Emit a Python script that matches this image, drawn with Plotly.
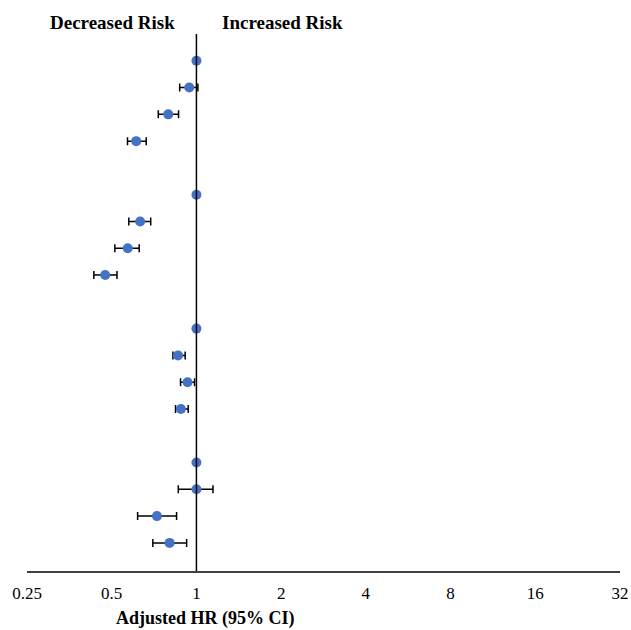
import plotly.graph_objects as go

rows = [0, 1, 2, 3, 5, 6, 7, 8, 10, 11, 12, 13, 15, 16, 17, 18]
hr = [1.0, 0.943, 0.794, 0.611, 1.0, 0.631, 0.570, 0.474, 1.0, 0.860, 0.930, 0.881, 1.0, 1.0, 0.724, 0.803]
ci_lo = [None, 0.872, 0.732, 0.569, None, 0.575, 0.513, 0.432, None, 0.825, 0.878, 0.843, None, 0.862, 0.618, 0.700]
ci_hi = [None, 1.012, 0.864, 0.663, None, 0.688, 0.626, 0.522, None, 0.912, 0.985, 0.935, None, 1.145, 0.850, 0.923]
tick_vals = [0.25, 0.5, 1, 2, 4, 8, 16, 32]
tick_text = ["0.25", "0.5", "1", "2", "4", "8", "16", "32"]

plus = [(h2 - h) if h2 is not None else None for h, h2 in zip(hr, ci_hi)]
minus = [(h - l) if l is not None else None for h, l in zip(hr, ci_lo)]

fig = go.Figure()
fig.add_trace(go.Scatter(
    x=hr, y=rows, mode="markers",
    marker=dict(color="#4472C4", size=10, line=dict(width=0)),
    error_x=dict(type="data", array=plus, arrayminus=minus, symmetric=False,
                 color="black", thickness=1.5, width=4),
    showlegend=False, hoverinfo="x+y",
))

fig.add_shape(type="line", xref="x", yref="paper", x0=1, x1=1, y0=0, y1=1,
              line=dict(color="black", width=1.5))

serif = "Liberation Serif, Times New Roman, serif"
L, R, T, B = 27, 11, 34, 59
W, H = 631, 630
fig.update_layout(
    width=W, height=H,
    margin=dict(l=L, r=R, t=T, b=B, autoexpand=False),
    paper_bgcolor="white", plot_bgcolor="white",
    font=dict(family=serif, color="black"),
    xaxis=dict(type="log", range=[-0.60206, 1.50515], tickvals=tick_vals, ticktext=tick_text,
               showgrid=False, zeroline=False, showline=True, linecolor="#404040", linewidth=1.5,
               ticks="", automargin=False, ticklabelstandoff=6,
               tickfont=dict(family=serif, size=17, color="black")),
    yaxis=dict(range=[19.05, -1.0], showticklabels=False, showgrid=False, zeroline=False,
               showline=False, ticks="", automargin=False),
)

pw = W - L - R
ph = H - T - B
def ann(text, px, py, size):
    fig.add_annotation(text=text, x=(px - L) / pw, y=1 - (py - T) / ph,
                       xref="paper", yref="paper", showarrow=False,
                       xanchor="center", yanchor="middle",
                       font=dict(family=serif, size=size, color="black"))

ann("<b>Decreased Risk</b>", 112, 23, 19)
ann("<b>Increased Risk</b>", 282, 23, 19)
ann("<b>Adjusted HR (95% CI)</b>", 205, 618, 18)

fig.write_html("out.html")
